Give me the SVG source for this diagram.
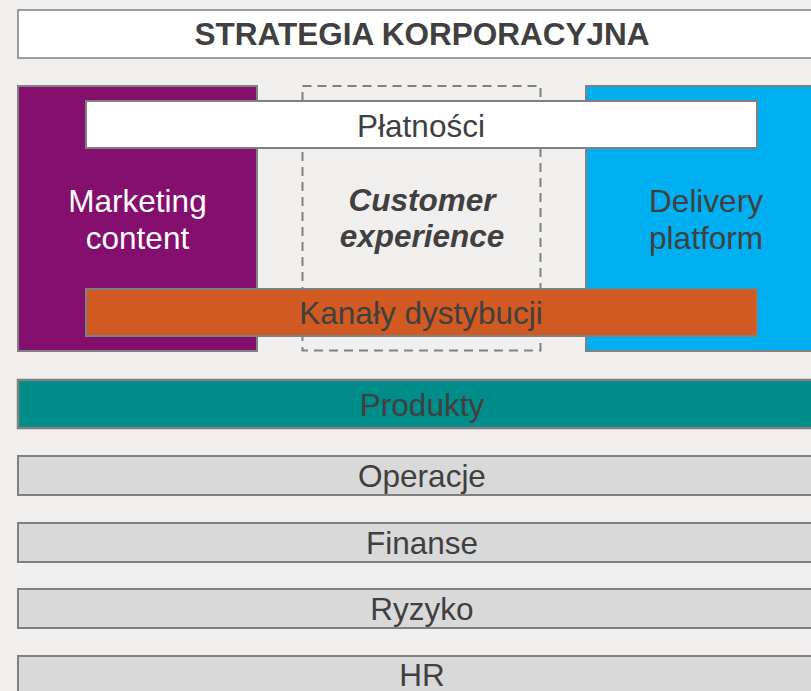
<svg xmlns="http://www.w3.org/2000/svg" width="811" height="691" viewBox="0 0 811 691">
<style>
.t{font-family:"Liberation Sans",Arial,sans-serif;font-size:31.5px;fill:#404040;text-anchor:middle}
.w{fill:#ffffff}
.b{font-weight:bold}
.bi{font-weight:bold;font-style:italic}
.box{stroke:#808080;stroke-width:2}
.bar{fill:#d9d9d9;stroke:#808080;stroke-width:2}
</style>
<rect x="0" y="0" width="811" height="691" fill="#f0efed"/>
<g id="strategia">
<rect x="18" y="10" width="808" height="48" fill="#ffffff" stroke="#808080" stroke-width="1.5"/>
<text class="t b" x="422" y="45">STRATEGIA KORPORACYJNA</text>
</g>
<g id="marketing">
<rect class="box" x="18" y="86" width="239" height="265" fill="#840f6e"/>
<text class="t w" x="137.5" y="212">Marketing</text>
<text class="t w" x="137.5" y="249">content</text>
</g>
<g id="delivery">
<rect class="box" x="586" y="86" width="240" height="265" fill="#00afef"/>
<text class="t" x="706" y="212">Delivery</text>
<text class="t" x="706" y="249">platform</text>
</g>
<g id="customer">
<rect x="302.5" y="86" width="238" height="264.5" fill="none" stroke="#808080" stroke-width="2" stroke-dasharray="9,6"/>
<text class="t bi" x="422" y="211">Customer</text>
<text class="t bi" x="422" y="247">experience</text>
</g>
<g id="platnosci">
<rect class="box" x="86" y="101" width="671" height="47" fill="#ffffff"/>
<text class="t" x="421" y="137">Płatności</text>
</g>
<g id="kanaly">
<rect class="box" x="86" y="289" width="671" height="47" fill="#d05a21"/>
<text class="t" x="421" y="324">Kanały dystybucji</text>
</g>
<g id="produkty">
<rect x="18" y="380" width="808" height="48" fill="#008c88" stroke="#808080" stroke-width="2.5"/>
<text class="t" x="422" y="416">Produkty</text>
</g>
<g id="operacje">
<rect class="bar" x="18" y="456" width="808" height="39"/>
<text class="t" x="422" y="487">Operacje</text>
</g>
<g id="finanse">
<rect class="bar" x="18" y="523" width="808" height="39"/>
<text class="t" x="422" y="554">Finanse</text>
</g>
<g id="ryzyko">
<rect class="bar" x="18" y="589" width="808" height="39"/>
<text class="t" x="422" y="620">Ryzyko</text>
</g>
<g id="hr">
<rect class="bar" x="18" y="656" width="808" height="39"/>
<text class="t" x="422" y="686">HR</text>
</g>
<g id="connectors"/>
</svg>
